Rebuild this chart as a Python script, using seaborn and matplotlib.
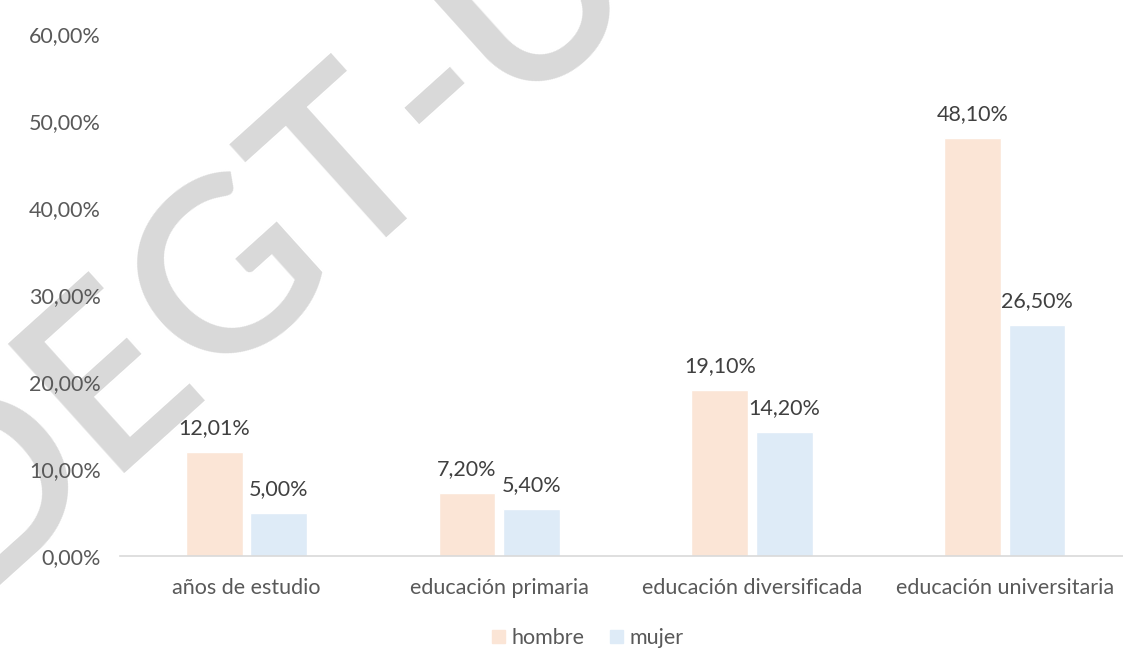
import pandas as pd
import numpy as np
import matplotlib
matplotlib.use("Agg")
import matplotlib.pyplot as plt
from matplotlib.ticker import FuncFormatter, MultipleLocator
import seaborn as sns

categorias = ["años de estudio", "educación primaria", "educación diversificada", "educación universitaria"]
hombre = [12.01, 7.20, 19.10, 48.10]
mujer = [5.00, 5.40, 14.20, 26.50]
series = ["hombre", "mujer"]
colores = ["#FBE5D6", "#DEEBF7"]

df = pd.DataFrame({
    "categoria": categorias * 2,
    "valor": hombre + mujer,
    "serie": ["hombre"] * len(categorias) + ["mujer"] * len(categorias),
})

sns.set_theme(style="white")
plt.rcParams["font.family"] = ["Lato", "DejaVu Sans"]
texto = "#595959"
fs = 15.5

fig = plt.figure(figsize=(11.23, 6.48), dpi=100)
ax = fig.add_axes([120 / 1123, 1 - 556 / 648, 1003 / 1123, (556 - 34) / 648])

# marca de agua
fig.text(0.232, 0.63, "DEGT-U", rotation=42, fontsize=174, fontweight="semibold",
         color="#d9d9d9", ha="center", va="center", rotation_mode="anchor", zorder=-1)
ax.set_facecolor("none")

sns.barplot(data=df, x="categoria", y="valor", hue="serie", hue_order=series,
            palette=colores, width=0.51, gap=0.12, ax=ax, legend=False, saturation=1)

for cont, vals in zip(ax.containers, [hombre, mujer]):
    for bar, v in zip(cont, vals):
        ax.annotate(f"{v:.2f}".replace(".", ",") + "%",
                    (bar.get_x() + bar.get_width() / 2, bar.get_height()),
                    xytext=(0, 10), textcoords="offset points",
                    ha="center", va="bottom", fontsize=fs, color="#404040")

ax.set_ylim(0, 60)
ax.set_xlim(-0.5, 1003 / 252.8 - 0.5)
ax.yaxis.set_major_locator(MultipleLocator(10))
ax.yaxis.set_major_formatter(FuncFormatter(lambda v, p: f"{v:.2f}".replace(".", ",") + "%"))
ax.tick_params(axis="y", length=0, pad=14, labelsize=fs, labelcolor=texto)
ax.tick_params(axis="x", length=0, pad=16, labelsize=fs, labelcolor=texto)
ax.set_xlabel("")
ax.set_ylabel("")
for s in ["top", "right", "left"]:
    ax.spines[s].set_visible(False)
ax.spines["bottom"].set_color("#d9d9d9")
ax.spines["bottom"].set_linewidth(1.2)

handles = [plt.Rectangle((0, 0), 1, 1, color=c) for c in colores]
leg = fig.legend(handles, series, loc="center", bbox_to_anchor=(588 / 1123, 1 - 638 / 648),
                 ncol=2, frameon=False, fontsize=fs, handlelength=0.6, handleheight=0.6,
                 handletextpad=0.3, columnspacing=1.2)
for t in leg.get_texts():
    t.set_color(texto)

fig.savefig("out.png", dpi=100)
